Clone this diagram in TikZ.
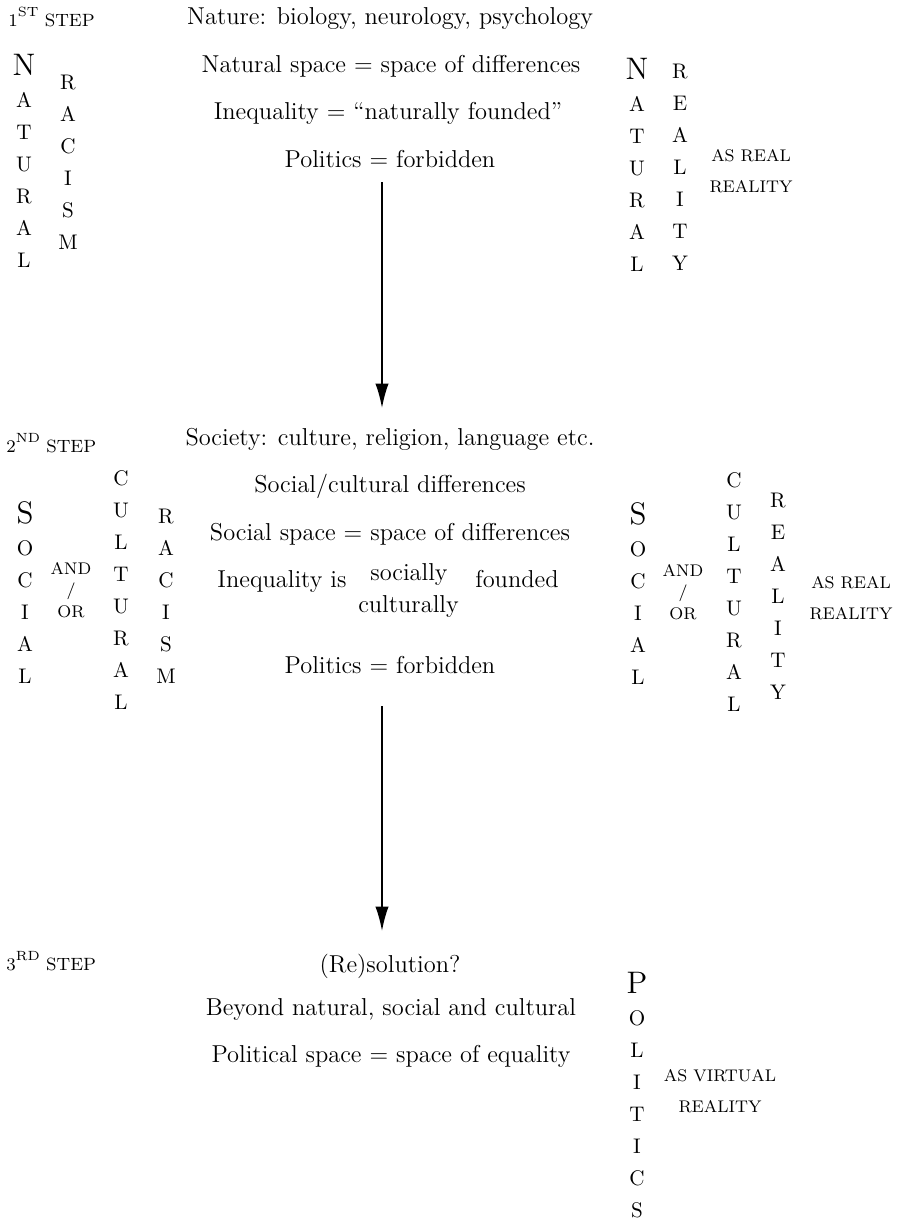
\documentclass[tikz,border=0pt]{standalone}
\usepackage{tikz}
\usetikzlibrary{arrows.meta,positioning}

\newcommand{\biglet}[1]{{\fontsize{14}{14.4}\selectfont #1}}
\newcommand{\ordsup}[1]{\raisebox{4.5pt}{\fontsize{6}{6}\selectfont #1}}

\begin{document}
\begin{tikzpicture}[x=0.45pt, y=-0.45pt,
    txt/.style={anchor=base, inner sep=0pt, font=\fontsize{11}{13}\selectfont},
    steplabel/.style={anchor=base west, inner sep=0pt, font=\fontsize{8}{9}\selectfont},
    vword/.style={anchor=north, inner sep=0pt, align=center, font=\fontsize{9.5}{14.4}\selectfont},
    andor/.style={anchor=north, inner sep=0pt, align=center, font=\fontsize{7.6}{9.7}\selectfont},
    tag/.style={anchor=north, inner sep=0pt, align=center, font=\fontsize{7.6}{14}\selectfont},
    flow/.style={-{Latex[length=11pt,width=6pt]}, line width=0.7pt}]
  \useasboundingbox (0,0) rectangle (899,1219);

  % 1st step
  \node[steplabel] (step1) at (8,26) {1\ordsup{ST} STEP};
  \node[txt] (nature) at (390,24) {Nature: biology, neurology, psychology};
  \node[txt] (natspace) at (391,72) {Natural space = space of differences};
  \node[txt] (ineq1) at (388,119) {Inequality = ``naturally founded''};
  \node[txt] (pol1) at (390,167) {Politics = forbidden};

  \node[vword] (natA) at (24,53.8) {\biglet{N}\\A\\T\\U\\R\\A\\L};
  \node[vword] (racA) at (68,74.6) {R\\A\\C\\I\\S\\M};
  \node[vword] (natB) at (637,57.8) {\biglet{N}\\A\\T\\U\\R\\A\\L};
  \node[vword] (reaB) at (680,63.6) {R\\E\\A\\L\\I\\T\\Y};
  \node[tag] (asreal1) at (751,148.5) {AS REAL\\REALITY};

  % 2nd step
  \node[steplabel] (step2) at (6,452) {2\ordsup{ND} STEP};
  \node[txt] (society) at (390,445) {Society: culture, religion, language etc.};
  \node[txt] (socdiff) at (390,492) {Social/cultural differences};
  \node[txt] (socspace) at (390,540) {Social space = space of differences};
  \node[txt, anchor=base west] (ineq2) at (217,587) {Inequality is};
  \node[txt] (socially) at (409,580) {socially};
  \node[txt] (culturally) at (408.5,612) {culturally};
  \node[txt, anchor=base west] (founded) at (475,587) {founded};
  \node[txt] (pol2) at (390,673) {Politics = forbidden};

  \node[vword] (socA) at (25,500.8) {\biglet{S}\\O\\C\\I\\A\\L};
  \node[andor] (andA) at (71,561.5) {AND\\/\\OR};
  \node[vword] (culA) at (121,470.6) {C\\U\\L\\T\\U\\R\\A\\L};
  \node[vword] (racB) at (166,508.6) {R\\A\\C\\I\\S\\M};
  \node[vword] (socB) at (638,501.8) {\biglet{S}\\O\\C\\I\\A\\L};
  \node[andor] (andB) at (683,563.5) {AND\\/\\OR};
  \node[vword] (culB) at (734,472.6) {C\\U\\L\\T\\U\\R\\A\\L};
  \node[vword] (reaC) at (778,492.6) {R\\E\\A\\L\\I\\T\\Y};
  \node[tag] (asreal2) at (851,575.5) {AS REAL\\REALITY};

  % 3rd step
  \node[steplabel] (step3) at (6,970) {3\ordsup{RD} STEP};
  \node[txt] (resol) at (390,972) {(Re)solution?};
  \node[txt] (beyond) at (391,1015) {Beyond natural, social and cultural};
  \node[txt] (polspace) at (391,1062) {Political space = space of equality};

  \node[vword] (polA) at (637,971.8) {\biglet{P}\\O\\L\\I\\T\\I\\C\\S};
  \node[tag] (asvirt) at (720,1068.5) {AS VIRTUAL\\REALITY};

  % arrows between the steps
  \coordinate (a1s) at (382,182);
  \coordinate (a1e) at (382,408);
  \coordinate (a2s) at (382,706);
  \coordinate (a2e) at (382,931);
  \path[flow]
    (a1s) edge (a1e)
    (a2s) edge (a2e);
\end{tikzpicture}
\end{document}
